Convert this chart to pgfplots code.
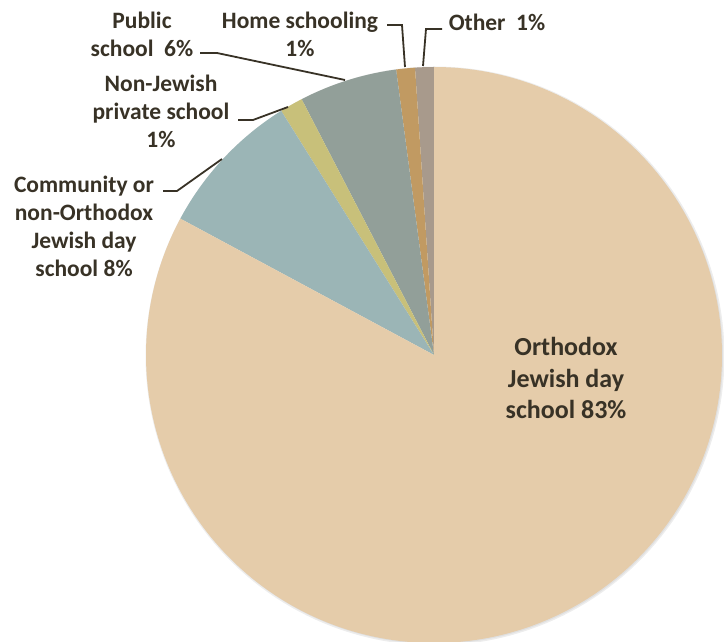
\documentclass[border=0pt]{standalone}
\usepackage{pgfplots}
\pgfplotsset{compat=1.18}
\usepackage{fontspec}
\setmainfont{Carlito}
\definecolor{cOrth}{HTML}{E5CCAA}
\definecolor{cComm}{HTML}{9BB5B6}
\definecolor{cNonJ}{HTML}{C8C07A}
\definecolor{cPub}{HTML}{929F99}
\definecolor{cHome}{HTML}{C19A62}
\definecolor{cOther}{HTML}{A89A8C}
\definecolor{txt}{HTML}{383226}
\begin{document}
\begin{tikzpicture}
\begin{axis}[hide axis, scale only axis, width=724pt, height=642pt,
  xmin=0, xmax=724, ymin=0, ymax=642, clip=false, anchor=south west, at={(0,0)}]
% soft shadow
\addplot[draw=black!7, line width=5pt, domain=0:100, samples=200]
  ({435+287*cos(90+3.6*x)},{286+287*sin(90+3.6*x)});
\addplot[draw=black!12, line width=2pt, domain=0:100, samples=200]
  ({435+287*cos(90+3.6*x)},{286+287*sin(90+3.6*x)});
% slices: cumulative percentages counter-clockwise from 12 o'clock
% Other 1.05, Home 1.05, Public 5.5, Non-Jewish 1.3, Community 8.25, Orthodox 82.85
\addplot[fill=cOther, draw=none, domain=0:1.05, samples=10]
  ({434+288*cos(90+3.6*x)},{287+288*sin(90+3.6*x)}) -- (434,287) -- cycle;
\addplot[fill=cHome, draw=none, domain=1.05:2.1, samples=10]
  ({434+288*cos(90+3.6*x)},{287+288*sin(90+3.6*x)}) -- (434,287) -- cycle;
\addplot[fill=cPub, draw=none, domain=2.1:7.6, samples=30]
  ({434+288*cos(90+3.6*x)},{287+288*sin(90+3.6*x)}) -- (434,287) -- cycle;
\addplot[fill=cNonJ, draw=none, domain=7.6:8.9, samples=10]
  ({434+288*cos(90+3.6*x)},{287+288*sin(90+3.6*x)}) -- (434,287) -- cycle;
\addplot[fill=cComm, draw=none, domain=8.9:17.15, samples=40]
  ({434+288*cos(90+3.6*x)},{287+288*sin(90+3.6*x)}) -- (434,287) -- cycle;
\addplot[fill=cOrth, draw=none, domain=17.15:100, samples=300]
  ({434+288*cos(90+3.6*x)},{287+288*sin(90+3.6*x)}) -- (434,287) -- cycle;
% leader lines
\draw[txt, line width=1.8pt] (200,589) -- (217,589) -- (345,562);
\draw[txt, line width=1.8pt] (387,617) -- (402,617) -- (405,575);
\draw[txt, line width=1.8pt] (442,613) -- (426,613) -- (423,576);
\draw[txt, line width=1.8pt] (238,522) -- (253,522) -- (288,535);
\draw[txt, line width=1.8pt] (163,451) -- (177,451) -- (222,483);
% labels
\begin{scope}[every node/.style={text=txt, align=center, font=\fontsize{23.5}{28}\selectfont\bfseries}]
\node at (142,608) {Public\\school\ \ 6\%};
\node at (300,608) {Home schooling\\1\%};
\node at (497,620) {Other\ \ 1\%};
\node at (161,531) {Non-Jewish\\private school\\1\%};
\node at (84,416) {Community or\\non-Orthodox\\Jewish day\\school 8\%};
\end{scope}
\node[text=txt, align=center, font=\fontsize{26}{31.5}\selectfont\bfseries] at (566,264) {Orthodox\\Jewish day\\school 83\%};
\end{axis}
\pgfresetboundingbox
\path[use as bounding box] (0,0) rectangle (724pt,642pt);
\end{tikzpicture}
\end{document}
